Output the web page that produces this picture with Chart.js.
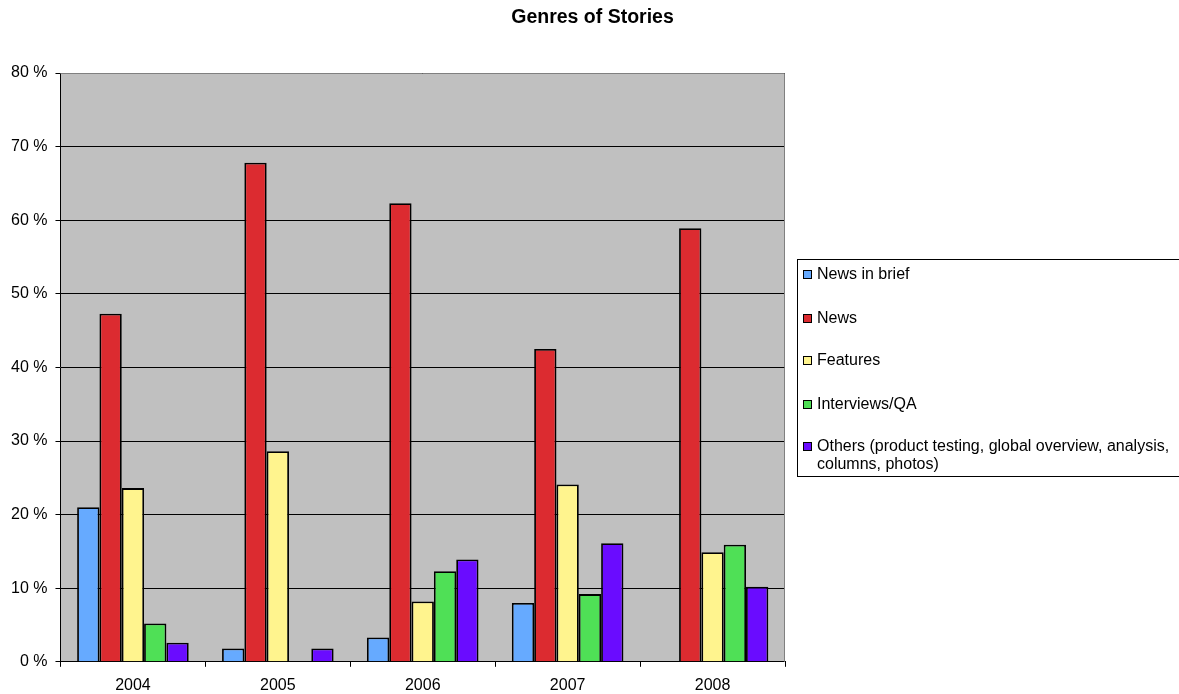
<!DOCTYPE html>
<html lang="en">
<head>
<meta charset="UTF-8">
<title>Genres of Stories</title>
<script src="https://cdn.jsdelivr.net/npm/chart.js@4"></script>
<style>
  body { margin: 0; background: #fff; overflow: hidden; font-family: "Liberation Sans", Arial, sans-serif; }
  #wrap { position: relative; width: 1179px; height: 705px; }
  #title { position: absolute; left: 3px; width: 1179px; top: 5px; text-align: center; font-weight: bold; font-size: 19.5px; color: #000; }
  #legend { position: absolute; left: 797px; top: 259px; width: 420px; height: 218px; border: 1px solid #000; box-sizing: border-box; font-size: 16px; color: #000; }
  .item { position: absolute; left: 5px; width: 378px; line-height: 18px; padding-left: 14px; }
  .sw { position: absolute; left: 0; top: 5px; width: 7px; height: 7px; border: 1px solid #000; }
</style>
</head>
<body>
<div id="wrap">
  <canvas id="myChart"></canvas>
  <div id="title">Genres of Stories</div>
  <div id="legend"></div>
</div>
<script>
const years = ['2004', '2005', '2006', '2007', '2008']
const newsInBrief = [21.0, 1.8, 3.3, 8.0, 0]
const news = [47.3, 67.8, 62.3, 42.5, 58.9]
const features = [23.6, 28.6, 8.2, 24.1, 14.9]
const interviews = [5.2, 0, 12.3, 9.2, 15.9]
const others = [2.6, 1.8, 13.9, 16.1, 10.2]
const genreNames = ['News in brief', 'News', 'Features', 'Interviews/QA',
        'Others (product testing, global overview, analysis, columns, photos)']
const genreColors = ['#66aaff', '#dc2b30', '#fff48e', '#4fe056', '#6a0cff']
const yTicks = [0, 10, 20, 30, 40, 50, 60, 70, 80]

const series = [newsInBrief, news, features, interviews, others]

// grey plot background plus the grey frame around it
const plotFrame = {
        id: 'plotFrame',
        beforeDraw(chart) {
                const { ctx, chartArea: a } = chart
                ctx.save()
                ctx.fillStyle = '#c0c0c0'
                ctx.fillRect(a.left, a.top, a.right - a.left, a.bottom - a.top)
                ctx.restore()
        },
        afterDraw(chart) {
                const { ctx, chartArea: a } = chart
                ctx.save()
                ctx.strokeStyle = '#808080'
                ctx.lineWidth = 1
                ctx.beginPath()
                ctx.moveTo(a.left, a.top + 0.5)
                ctx.lineTo(a.right - 0.5, a.top + 0.5)
                ctx.lineTo(a.right - 0.5, a.bottom)
                ctx.stroke()
                ctx.restore()
        }
}

const ctx = document.getElementById('myChart')
new Chart(ctx, {
        type: 'bar',
        data: {
                labels: years,
                datasets: series.map((d, i) => ({
                        label: genreNames[i],
                        data: d,
                        backgroundColor: genreColors[i],
                        borderColor: '#000',
                        borderWidth: 1.8,
                        categoryPercentage: 0.77,
                        barPercentage: 1
                }))
        },
        options: {
                responsive: true,
                maintainAspectRatio: false,
                animation: false,
                layout: { padding: { left: 3, top: 73, right: 394, bottom: 1 } },
                plugins: {
                        legend: { display: false },
                        tooltip: { enabled: false }
                },
                scales: {
                        x: {
                                grid: { offset: true, drawOnChartArea: false, color: '#000', tickLength: 5 },
                                border: { color: '#000' },
                                ticks: { color: '#000', padding: 9, font: { family: '"Liberation Sans", Arial', size: 16 } }
                        },
                        y: {
                                min: 0,
                                max: 80,
                                afterBuildTicks: s => { s.ticks = yTicks.map(v => ({ value: v })) },
                                grid: { color: '#000', tickLength: 5 },
                                border: { color: '#000' },
                                ticks: {
                                        color: '#000', padding: 8,
                                        font: { family: '"Liberation Sans", Arial', size: 16 },
                                        callback: v => v + ' %'
                                }
                        }
                }
        },
        plugins: [plotFrame]
})

// legend box on the right
const legend = document.getElementById('legend')
const rowTops = [5, 49, 91, 135, 177]
genreNames.forEach((name, i) => {
        const item = document.createElement('div')
        item.className = 'item'
        item.style.top = rowTops[i] + 'px'
        item.innerHTML = '<span class="sw" style="background:' + genreColors[i] + '"></span>' + name
        legend.appendChild(item)
})
</script>
</body>
</html>
